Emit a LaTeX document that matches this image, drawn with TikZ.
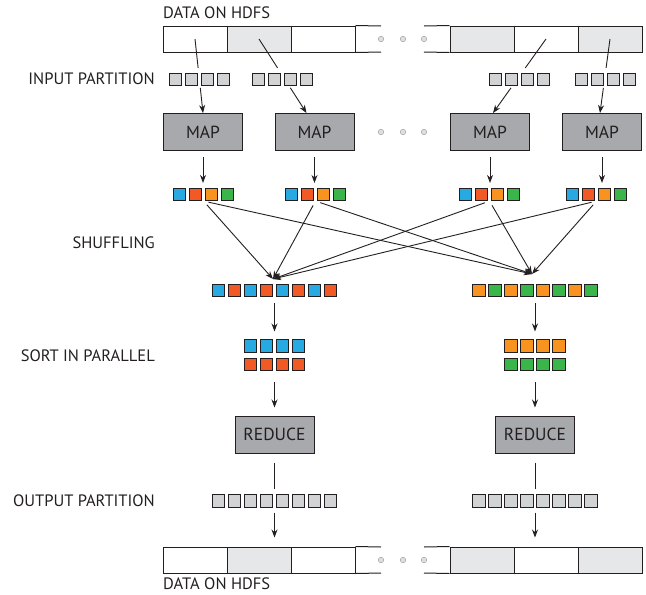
\documentclass[tikz,border=0pt]{standalone}
\usepackage{fontspec}
\setmainfont{PT Sans}
\usetikzlibrary{positioning,calc,arrows.meta}
\definecolor{figTrait}{RGB}{35,31,32}
\definecolor{figCase}{RGB}{230,231,232}
\definecolor{figGris}{RGB}{209,211,212}
\definecolor{figGrisFonce}{RGB}{167,169,172}
\definecolor{figPoint}{RGB}{170,172,175}
\definecolor{figPointFond}{RGB}{222,223,224}
\definecolor{figBleu}{RGB}{39,170,225}
\definecolor{figRouge}{RGB}{241,90,36}
\definecolor{figOrange}{RGB}{247,147,30}
\definecolor{figVert}{RGB}{57,181,74}

\begin{document}
\begin{tikzpicture}[
  x=1pt, y=-1pt, every node/.style={font=\fontsize{16.5}{18}\selectfont, text=figTrait},
  cell/.style={draw=figTrait, line width=1pt, minimum width=64pt, minimum height=26pt,
               inner sep=0pt, fill=white},
  bord/.style={draw=figTrait, line width=1pt},
  sq/.style={draw=figTrait, line width=0.9pt, minimum size=12.2pt, inner sep=0pt},
  proc/.style={draw=figTrait, line width=1pt, minimum width=79pt, minimum height=37pt,
               inner sep=0pt, fill=figGrisFonce, font=\fontsize{17.5}{19}\selectfont},
  dot/.style={circle, draw=figPoint, fill=figPointFond, line width=0.6pt,
              minimum size=5.5pt, inner sep=0pt},
  lab/.style={anchor=east, inner sep=0pt},
  ln/.style={line width=0.9pt, figTrait},
  fl/.style={-{Stealth[length=8pt,width=6pt]}, line width=0.9pt, figTrait}
]
\useasboundingbox (0,0) rectangle (646,595);

% Donnees HDFS en haut et en bas
\node[inner sep=0pt, anchor=west] (hdfsT) at (163,13) {DATA ON HDFS};
\node[cell] (t1) at (195,39) {};
\node[cell, fill=figCase] (t2) at (259,39) {};
\node[cell] (t3) at (323,39) {};
\node[cell, fill=figCase] (t5) at (482,39) {};
\node[cell] (t6) at (546,39) {};
\node[cell, fill=figCase] (t7) at (610,39) {};
\draw[bord] (t3.north east) -- (381,26) (t3.south east) -- (381,52);
\draw[bord] (t5.north west) -- (424,26) (t5.south west) -- (424,52);
\node[dot] (tp1) at (381,39) {};
\node[dot] (tp2) at (403,39) {};
\node[dot] (tp3) at (424,39) {};

\node[cell] (b1) at (195,560) {};
\node[cell, fill=figCase] (b2) at (259,560) {};
\node[cell] (b3) at (323,560) {};
\node[cell, fill=figCase] (b5) at (482,560) {};
\node[cell] (b6) at (546,560) {};
\node[cell, fill=figCase] (b7) at (610,560) {};
\draw[bord] (b3.north east) -- (381,547) (b3.south east) -- (381,573);
\draw[bord] (b5.north west) -- (424,547) (b5.south west) -- (424,573);
\node[dot] (bp1) at (381,560) {};
\node[dot] (bp2) at (403,560) {};
\node[dot] (bp3) at (424,560) {};
\node[inner sep=0pt, anchor=west] (hdfsB) at (163,584) {DATA ON HDFS};

% Etiquettes des etapes
\node[lab] (lIn)   at (155,79)  {INPUT PARTITION};
\node[lab] (lShuf) at (155,243) {SHUFFLING};
\node[lab] (lSort) at (155,356) {SORT IN PARALLEL};
\node[lab] (lOut)  at (155,501) {OUTPUT PARTITION};

% Partitions d'entree et MAP
\foreach \g/\x in {1/175.5, 2/258.5, 3/495.5, 4/581.5}
  \foreach \i in {1,...,4}
    \node[sq, fill=figGris] (in\g-\i) at (\x+16*\i-16,79.5) {};
\node[proc] (map1) at (203,132)   {MAP};
\node[proc] (map2) at (314.5,132) {MAP};
\node[proc] (map3) at (490,132)   {MAP};
\node[proc] (map4) at (602,132)   {MAP};
\node[dot] (mp1) at (381,132) {};
\node[dot] (mp2) at (403,132) {};
\node[dot] (mp3) at (424,132) {};

\coordinate (e1) at (map1.north);
\coordinate (e2) at ([xshift=-8pt]map2.north);
\coordinate (e3) at ([xshift=3pt]map3.north);
\coordinate (e4) at ([xshift=-2pt]map4.north);
\foreach \a/\b in {t1/e1, t2/e2, t6/e3, t7/e4} {
  \draw[ln] (\a.center) -- ($(\a.center)!0.39!(\b)$);
  \draw[fl] ($(\a.center)!0.66!(\b)$) -- (\b);
}

% Sorties des MAP
\foreach \g/\x in {1/179.5, 2/291.5, 3/465.5, 4/572.5}
  \foreach \c [count=\i] in {figBleu, figRouge, figOrange, figVert}
    \node[sq, fill=\c] (k\g-\i) at (\x+16*\i-16,194.5) {};
\foreach \g in {1,...,4}
  \draw[fl, shorten <=6pt, shorten >=5pt] (map\g.south) -- (map\g.south |- k\g-1.north);

% Melange
\foreach \c [count=\i] in {figBleu, figRouge, figBleu, figRouge, figBleu, figRouge, figBleu, figRouge}
  \node[sq, fill=\c] (s1-\i) at (218.5+16*\i-16,290.5) {};
\foreach \c [count=\i] in {figOrange, figVert, figOrange, figVert, figOrange, figVert, figOrange, figVert}
  \node[sq, fill=\c] (s2-\i) at (479+16*\i-16,290.5) {};
\coordinate (tL) at (273,279);
\coordinate (tR) at (532,274);
\foreach \g in {1,...,4} {
  \coordinate (sh\g) at ($(k\g-2.south)!0.5!(k\g-3.south)$);
  \draw[fl, shorten <=5pt] (sh\g) -- (tL);
  \draw[fl, shorten <=5pt] (sh\g) -- (tR);
}

% Tri en parallele
\foreach \i in {1,...,4} {
  \node[sq, fill=figBleu]   (a1-\i) at (250.5+16*\i-16,346) {};
  \node[sq, fill=figRouge]  (a2-\i) at (250.5+16*\i-16,364.5) {};
  \node[sq, fill=figOrange] (a3-\i) at (511+16*\i-16,346) {};
  \node[sq, fill=figVert]   (a4-\i) at (511+16*\i-16,364.5) {};
}

% REDUCE et partitions de sortie
\node[proc] (red1) at (274.5,434.5) {REDUCE};
\node[proc] (red2) at (535,434.5)   {REDUCE};
\foreach \i in {1,...,8} {
  \node[sq, fill=figGris] (o1-\i) at (218.5+16*\i-16,501) {};
  \node[sq, fill=figGris] (o2-\i) at (479+16*\i-16,501) {};
}

\draw[fl, shorten <=6pt, shorten >=8pt] (red1.north |- s1-1.south) -- (red1.north |- a1-1.north);
\draw[fl, shorten <=6pt, shorten >=8pt] (red2.north |- s2-1.south) -- (red2.north |- a3-1.north);
\draw[fl, shorten <=11pt, shorten >=8pt] (red1.north |- a2-1.south) -- (red1.north);
\draw[fl, shorten <=11pt, shorten >=8pt] (red2.north |- a4-1.south) -- (red2.north);
\draw[ln, shorten <=9pt, shorten >=5pt] (red1.south) -- (red1.south |- o1-1.north);
\draw[ln, shorten <=9pt, shorten >=5pt] (red2.south) -- (red2.south |- o2-1.north);
\draw[fl, shorten <=5pt, shorten >=9pt] (red1.south |- o1-1.south) -- (red1.south |- b2.north);
\draw[fl, shorten <=5pt, shorten >=9pt] (red2.south |- o2-1.south) -- (red2.south |- b6.north);
\end{tikzpicture}
\end{document}
